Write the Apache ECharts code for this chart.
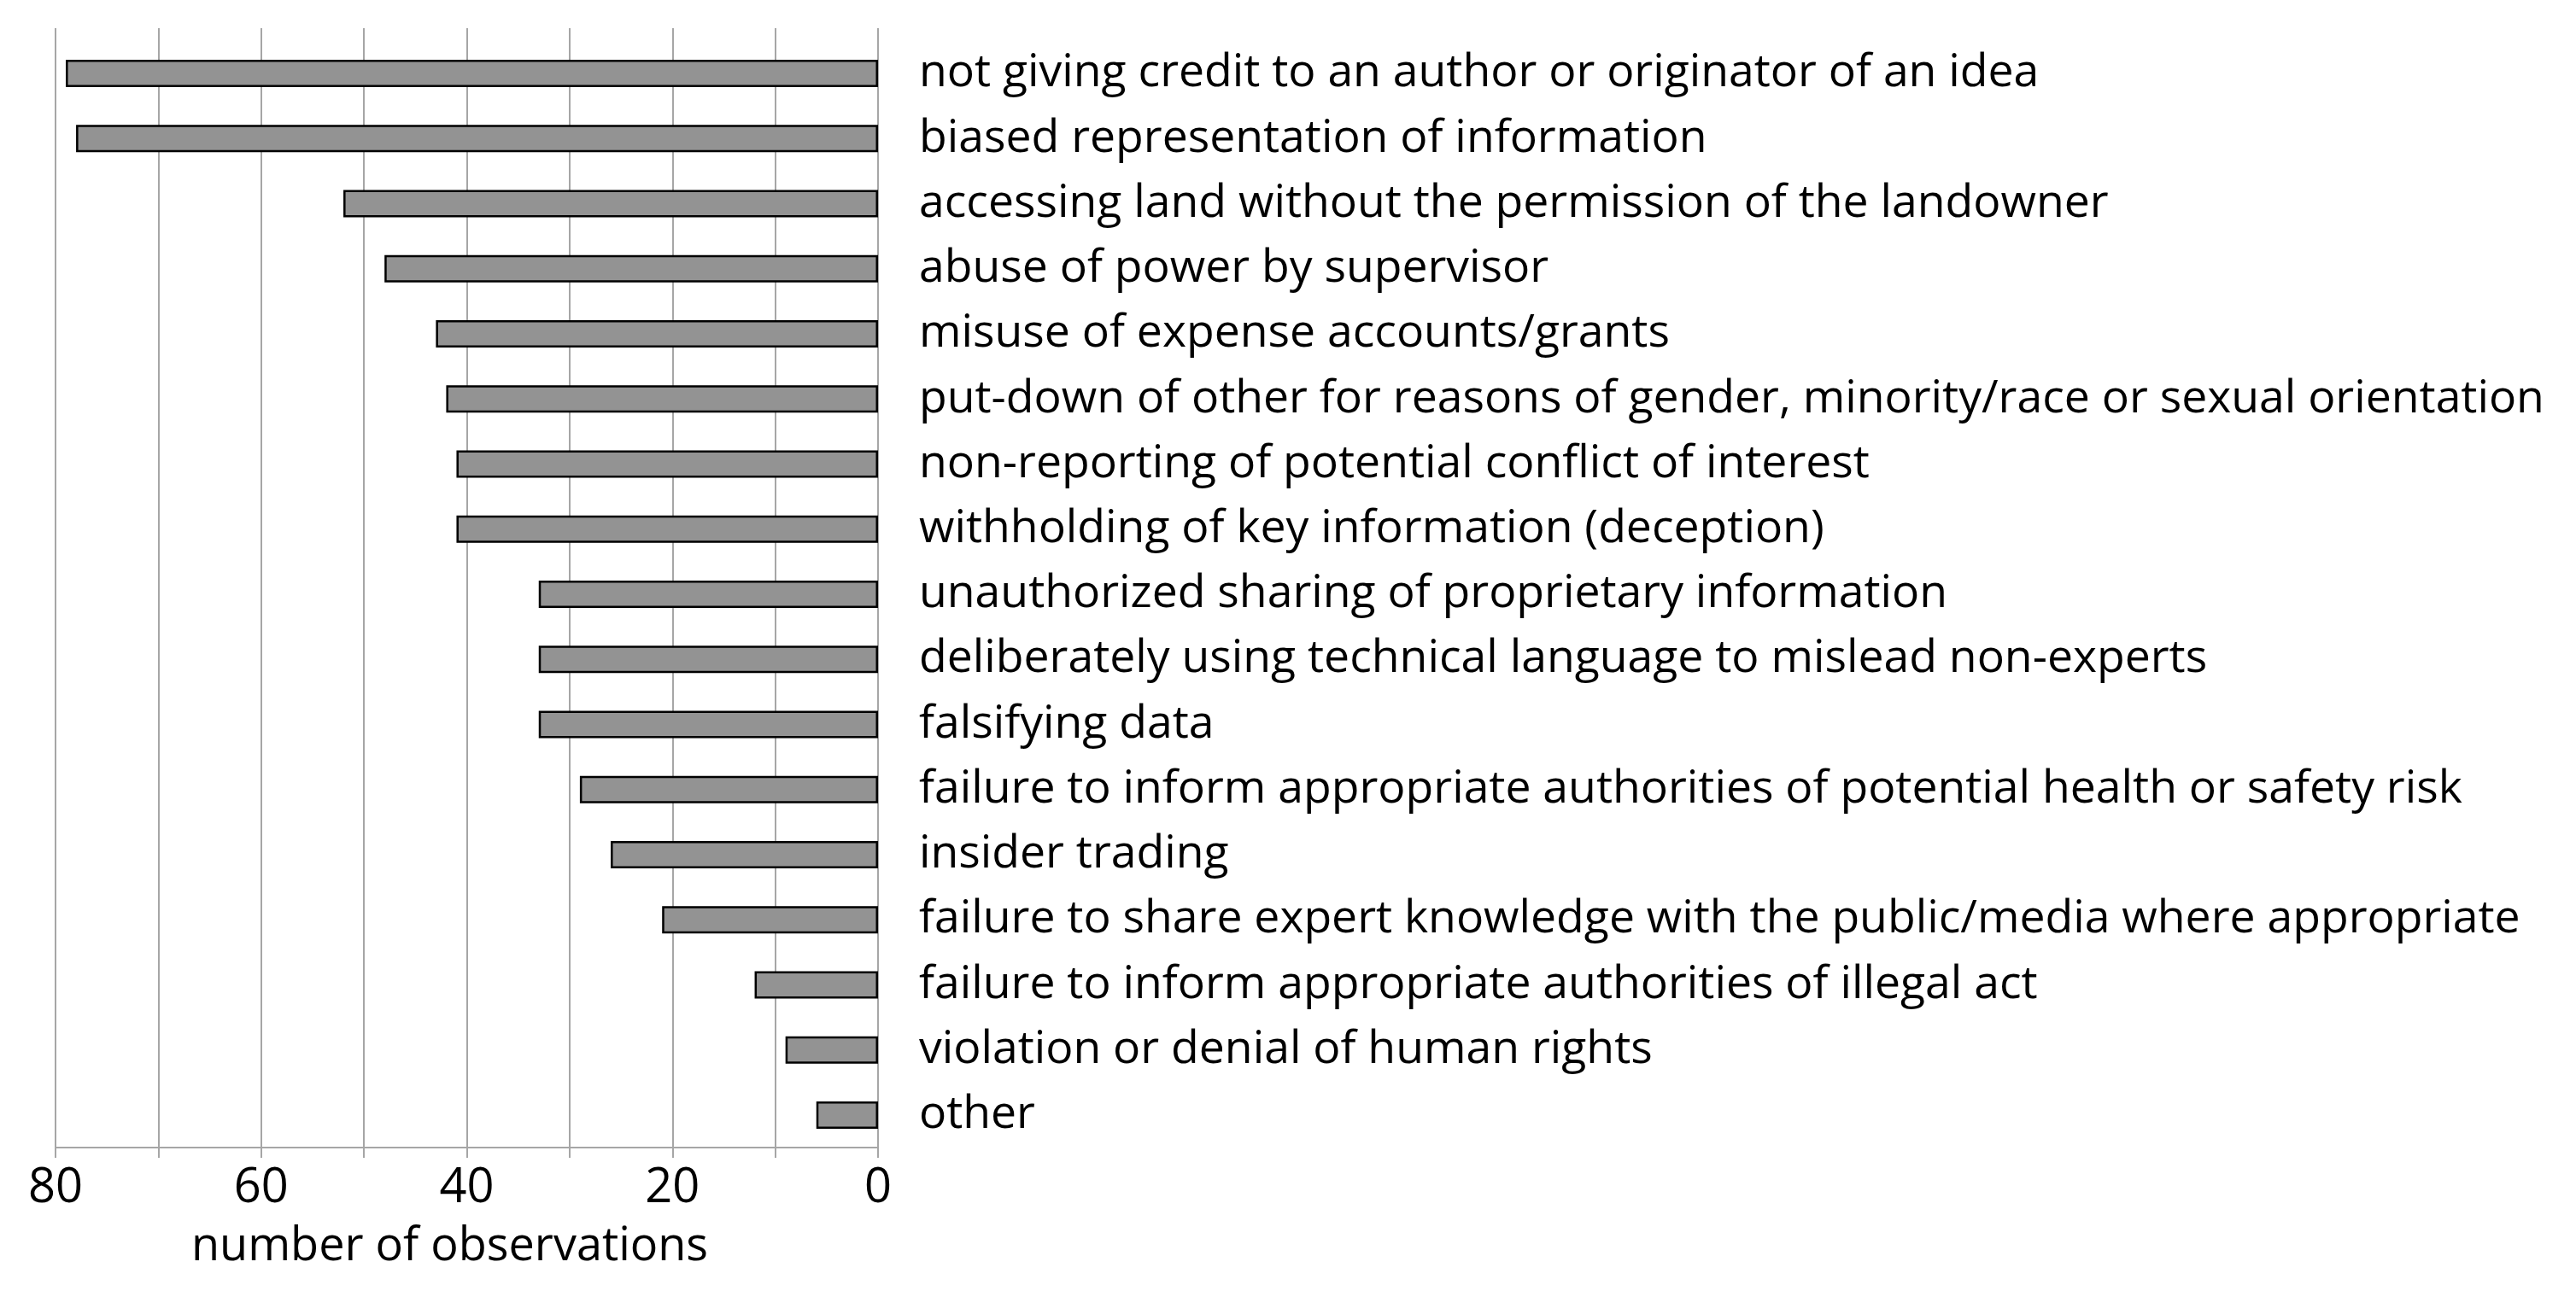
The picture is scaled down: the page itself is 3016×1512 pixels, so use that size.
<!DOCTYPE html>
<html>
<head>
<meta charset="utf-8">
<script src="https://cdn.jsdelivr.net/npm/echarts@6/dist/echarts.min.js"></script>
<style>
  html, body { margin: 0; padding: 0; background: #fff; }
  #chart { width: 3016px; height: 1512px; }
</style>
</head>
<body>
<div id="chart"></div>
<script>
// categories from top to bottom
const categories = [
  'not giving credit to an author or originator of an idea',
  'biased representation of information',
  'accessing land without the permission of the landowner',
  'abuse of power by supervisor',
  'misuse of expense accounts/grants',
  'put-down of other for reasons of gender, minority/race or sexual orientation',
  'non-reporting of potential conflict of interest',
  'withholding of key information (deception)',
  'unauthorized sharing of proprietary information',
  'deliberately using technical language to mislead non-experts',
  'falsifying data',
  'failure to inform appropriate authorities of potential health or safety risk',
  'insider trading',
  'failure to share expert knowledge with the public/media where appropriate',
  'failure to inform appropriate authorities of illegal act',
  'violation or denial of human rights',
  'other'
];
const observations = [79, 78, 52, 48, 43, 42, 41, 41, 33, 33, 33, 29, 26, 21, 12, 9, 6];
const xTicks = [0, 20, 40, 60, 80];

const FONT = 'Open Sans';
const GRID_COLOR = '#a6a6a6';

const chart = echarts.init(document.getElementById('chart'));

chart.setOption({
  backgroundColor: '#fff',
  animation: false,
  textStyle: { fontFamily: FONT },
  grid: [
    { left: 65, right: 1988, top: 48, bottom: 168 },
    // thin strip so the grid lines run a little above the first bar
    { left: 65, right: 1988, top: 33, height: 15 }
  ],
  xAxis: [{
    type: 'value',
    inverse: true,
    min: 0,
    max: 80,
    interval: 10,
    name: 'number of observations',
    nameLocation: 'middle',
    nameGap: 90,
    nameTextStyle: { fontSize: 54, color: '#000', fontFamily: FONT, padding: [0, 40, 0, 0] },
    axisLine: { show: true, lineStyle: { color: GRID_COLOR, width: 2 } },
    axisTick: { show: true, length: 12, lineStyle: { color: GRID_COLOR, width: 2 } },
    axisLabel: {
      fontSize: 56,
      color: '#000',
      margin: 20,
      fontFamily: FONT,
      formatter: v => (xTicks.indexOf(v) >= 0 ? String(v) : '')
    },
    splitLine: { show: true, lineStyle: { color: GRID_COLOR, width: 2 } }
  }, {
    type: 'value',
    gridIndex: 1,
    inverse: true,
    min: 0,
    max: 80,
    interval: 10,
    axisLine: { show: false },
    axisTick: { show: false },
    axisLabel: { show: false },
    splitLine: { show: true, lineStyle: { color: GRID_COLOR, width: 2 } }
  }],
  yAxis: [{
    type: 'category',
    inverse: true,
    position: 'right',
    data: categories,
    axisLine: { show: true, lineStyle: { color: GRID_COLOR, width: 2 } },
    axisTick: { show: false },
    axisLabel: {
      fontSize: 53.5,
      color: '#000',
      margin: 48,
      align: 'left',
      fontFamily: FONT
    }
  }, {
    type: 'category',
    gridIndex: 1,
    data: [''],
    axisLine: { show: false },
    axisTick: { show: false },
    axisLabel: { show: false }
  }],
  series: [{
    type: 'bar',
    data: observations,
    barWidth: 32,
    itemStyle: { color: '#939393', borderColor: '#000', borderWidth: 2.5 }
  }]
});
</script>
</body>
</html>
